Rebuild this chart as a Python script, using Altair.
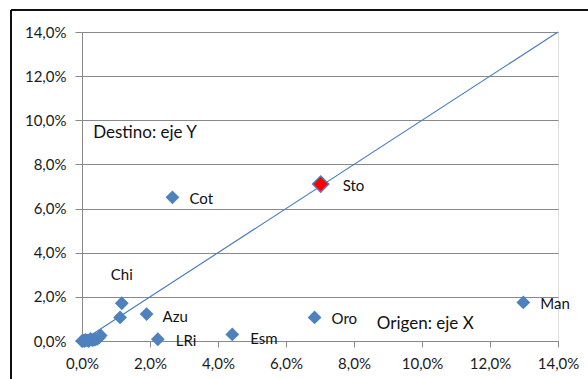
import altair as alt
import pandas as pd

# Share of origin (x) vs destination (y) per place, as fractions
names = ["Sto", "Cot", "Man", "Oro", "Esm", "LRi", "Azu", "Chi", "",
         "", "", "", "", "", "", "", "", "", "", "", "", ""]
origen = [0.0702, 0.0266, 0.1298, 0.0684, 0.0442, 0.0223, 0.0190, 0.0117, 0.0112,
          0.0000, 0.0005, 0.0008, 0.0010, 0.0015, 0.0020, 0.0025, 0.0030, 0.0035,
          0.0040, 0.0045, 0.0050, 0.0055]
destino = [0.0711, 0.0651, 0.0175, 0.0107, 0.0030, 0.0008, 0.0122, 0.0171, 0.0107,
           0.0000, 0.0002, 0.0000, 0.0005, 0.0003, 0.0000, 0.0010, 0.0004, 0.0005,
           0.0008, 0.0010, 0.0015, 0.0025]
highlight = ["Sto"]

# Label offsets (pixels) for the named points
label_dx = [22, 17, 17, 17, 18, 18, 16, -11]
label_dy = [2, 2, 2, 2, 5, 2, 3, -28]

# Reference line y = x
diag_x = [0.0, 0.14]

# Axis notes
note_text = ["Destino: eje Y", "Origen: eje X"]
note_x = [0.0033, 0.0867]
note_y = [0.0944, 0.0077]

ticks = [0.0, 0.02, 0.04, 0.06, 0.08, 0.10, 0.12, 0.14]

FONT = "Lato"
BLUE = "#4F81BD"
LINE = "#4A7EBB"
GRID = "#898989"

df = pd.DataFrame({"name": names, "origen": origen, "destino": destino})
df["hl"] = df["name"].isin(highlight)
labels = df[df["name"] != ""].copy().reset_index(drop=True)
labels["dx"] = label_dx
labels["dy"] = label_dy
diag = pd.DataFrame({"origen": diag_x, "destino": diag_x})
notes = pd.DataFrame({"t": note_text, "origen": note_x, "destino": note_y})

pct = "replace(format(datum.value, '.1%'), '.', ',')"
xs = alt.Scale(domain=[0, 0.14], nice=False, zero=False)
ys = alt.Scale(domain=[0, 0.14], nice=False, zero=False)

x_enc = alt.X("origen:Q", scale=xs, axis=alt.Axis(
    values=ticks, labelExpr=pct, title=None, grid=False, domainColor=GRID,
    tickColor=GRID, tickSize=6, labelPadding=9, labelFont=FONT, labelFontSize=15,
    labelColor="#1a1a1a", labelFlush=False, labelOverlap=False))
y_enc = alt.Y("destino:Q", scale=ys, axis=alt.Axis(
    values=ticks, labelExpr=pct, title=None, grid=True, gridColor=GRID,
    gridWidth=1.2, domainColor=GRID, tickColor=GRID, tickSize=7, labelPadding=9,
    labelFont=FONT, labelFontSize=15, labelColor="#1a1a1a", labelFlush=False,
    labelOverlap=False))

line = alt.Chart(diag).mark_line(color=LINE, strokeWidth=1.2).encode(
    x=x_enc, y=y_enc)

pts = alt.Chart(df[~df["hl"]]).mark_point(
    shape="diamond", filled=True, size=190, color=BLUE, opacity=1
).encode(x="origen:Q", y="destino:Q")

hl = alt.Chart(df[df["hl"]]).mark_point(
    shape="diamond", filled=True, size=260, fill="#FF0000", stroke=BLUE,
    strokeWidth=1.5, opacity=1
).encode(x="origen:Q", y="destino:Q")

base_txt = dict(align="left", baseline="middle", font=FONT, fontSize=15, color="#111111")
lbl_layers = []
for _, r in labels.iterrows():
    lbl_layers.append(
        alt.Chart(labels[labels["name"] == r["name"]]).mark_text(
            dx=int(r["dx"]), dy=int(r["dy"]), **base_txt
        ).encode(x="origen:Q", y="destino:Q", text="name:N")
    )

note_layer = alt.Chart(notes).mark_text(
    align="left", baseline="middle", font=FONT, fontSize=17, color="#111111"
).encode(x="origen:Q", y="destino:Q", text="t:N")

# Outer frame of the chart box (top and left edges)
frame_top = alt.Chart(diag).mark_rule(color="#000000", strokeWidth=1.5).encode(
    x=alt.value(-71), x2=alt.value(520), y=alt.value(-22))
frame_left = alt.Chart(diag).mark_rule(color="#000000", strokeWidth=1.5).encode(
    x=alt.value(-71), y=alt.value(-22), y2=alt.value(360))

chart = alt.layer(
    line, pts, hl, *lbl_layers, note_layer, frame_top, frame_left
).properties(
    width=476, height=309,
    padding={"left": 82, "top": 32, "right": 30, "bottom": 38},
    autosize=alt.AutoSizeParams(type="none"),
).configure_view(stroke=None).configure(background="white")

chart.save("out.html", embed_options={"renderer": "svg", "actions": False})
